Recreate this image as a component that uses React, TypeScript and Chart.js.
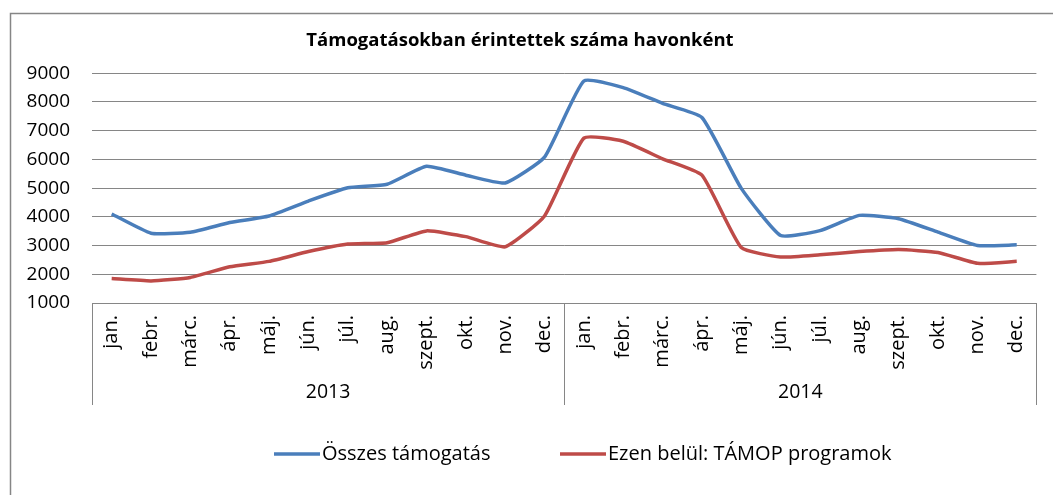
import React, { useEffect, useRef } from "react";
import { Chart, registerables } from "chart.js";

Chart.register(...registerables);

const TITLE = "Támogatásokban érintettek száma havonként";
const months = ["jan.", "febr.", "márc.", "ápr.", "máj.", "jún.", "júl.", "aug.", "szept.", "okt.", "nov.", "dec."];
const years = ["2013", "2014"];
const categories = years.flatMap(() => months);

const seriesNames = ["Összes támogatás", "Ezen belül: TÁMOP programok"];
const osszesTamogatas = [
  4100, 3430, 3465, 3800, 4030, 4550, 5010, 5135, 5760, 5450, 5180, 6080,
  8730, 8500, 7950, 7460, 4990, 3350, 3520, 4050, 3935, 3465, 3000, 3025,
];
const tamopProgramok = [
  1850, 1770, 1890, 2260, 2450, 2790, 3050, 3100, 3510, 3310, 2955, 4030,
  6740, 6630, 6020, 5450, 2930, 2600, 2680, 2790, 2860, 2760, 2380, 2450,
];
const yMin = 1000;
const yMax = 9000;
const yStep = 1000;

const FONT = "'Open Sans', sans-serif";
const GRID = "#868686";
const BLUE = "#4A7EBB";
const RED = "#BE4B48";

const framePlugin = {
  id: "frame",
  beforeDraw(chart: any) {
    const ctx = chart.ctx;
    ctx.save();
    ctx.fillStyle = "#ffffff";
    ctx.fillRect(0, 0, chart.width, chart.height);
    ctx.strokeStyle = GRID;
    ctx.lineWidth = 1.5;
    ctx.strokeRect(10.5, 13.5, chart.width + 50, chart.height + 50);
    ctx.restore();
  },
};

const groupAxisPlugin = {
  id: "groupAxis",
  afterDraw(chart: any) {
    const ctx = chart.ctx;
    const xs = chart.scales.x;
    const area = chart.chartArea;
    const n = months.length;
    const bounds: number[] = [];
    for (let g = 0; g <= years.length; g++) {
      if (g === 0) bounds.push(area.left);
      else if (g === years.length) bounds.push(area.right);
      else bounds.push((xs.getPixelForValue(g * n - 1) + xs.getPixelForValue(g * n)) / 2);
    }
    ctx.save();
    ctx.strokeStyle = GRID;
    ctx.lineWidth = 1;
    bounds.forEach((b) => {
      const px = Math.round(b) + 0.5;
      ctx.beginPath();
      ctx.moveTo(px, area.bottom);
      ctx.lineTo(px, xs.bottom);
      ctx.stroke();
    });
    ctx.fillStyle = "#000";
    ctx.font = `19.5px ${FONT}`;
    ctx.textAlign = "center";
    ctx.textBaseline = "middle";
    years.forEach((y, i) => {
      ctx.fillText(y, (bounds[i] + bounds[i + 1]) / 2, xs.bottom - 13);
    });
    ctx.restore();
  },
};

const legendPlugin = {
  id: "customLegend",
  afterDraw(chart: any) {
    const ctx = chart.ctx;
    const y = 454;
    const starts = [274, 560];
    const lineLen = 46;
    ctx.save();
    ctx.font = `20px ${FONT}`;
    ctx.textBaseline = "middle";
    ctx.textAlign = "left";
    chart.data.datasets.forEach((ds: any, i: number) => {
      const x0 = starts[i];
      ctx.strokeStyle = ds.borderColor;
      ctx.lineWidth = 3.5;
      ctx.beginPath();
      ctx.moveTo(x0, y);
      ctx.lineTo(x0 + lineLen, y);
      ctx.stroke();
      ctx.fillStyle = "#000";
      ctx.fillText(ds.label, x0 + lineLen + 2, y);
    });
    ctx.restore();
  },
};

export default function App() {
  const ref = useRef<HTMLCanvasElement | null>(null);

  useEffect(() => {
    if (!ref.current) return;
    const chart = new Chart(ref.current, {
      type: "line",
      data: {
        labels: categories,
        datasets: [
          {
            label: seriesNames[0],
            data: osszesTamogatas,
            borderColor: BLUE,
            backgroundColor: BLUE,
            borderWidth: 3.5,
            pointRadius: 0,
            tension: 0.15,
          },
          {
            label: seriesNames[1],
            data: tamopProgramok,
            borderColor: RED,
            backgroundColor: RED,
            borderWidth: 3.5,
            pointRadius: 0,
            tension: 0.15,
          },
        ],
      },
      options: {
        responsive: false,
        animation: false,
        devicePixelRatio: 1,
        layout: { padding: { left: 0, right: 13, top: 19, bottom: 90 } },
        plugins: {
          legend: { display: false },
          tooltip: { enabled: false },
          title: {
            display: true,
            text: TITLE,
            color: "#000",
            font: { family: FONT, size: 18.5, weight: "bold" },
            padding: { top: 11, bottom: 21 },
          },
        },
        scales: {
          x: {
            type: "category",
            offset: true,
            grid: { display: false, drawTicks: false },
            border: { display: true, color: GRID },
            ticks: {
              autoSkip: false,
              minRotation: 90,
              maxRotation: 90,
              padding: 12,
              color: "#000",
              font: { family: FONT, size: 20 },
            },
            afterFit: (scale: any) => {
              scale.height = 102;
            },
          },
          y: {
            min: yMin,
            max: yMax,
            grid: { color: GRID, drawTicks: false, lineWidth: 1 },
            border: { display: false },
            ticks: {
              stepSize: yStep,
              padding: 22,
              color: "#000",
              font: { family: FONT, size: 19 },
              callback: (v: any) => String(v),
            },
            afterFit: (scale: any) => {
              scale.width = 92;
            },
          },
        },
      },
      plugins: [framePlugin, groupAxisPlugin, legendPlugin],
    });
    return () => chart.destroy();
  }, []);

  return (
    <div style={{ position: "absolute", left: 0, top: 0, width: 1053, height: 495 }}>
      <canvas ref={ref} width={1053} height={495} />
    </div>
  );
}
